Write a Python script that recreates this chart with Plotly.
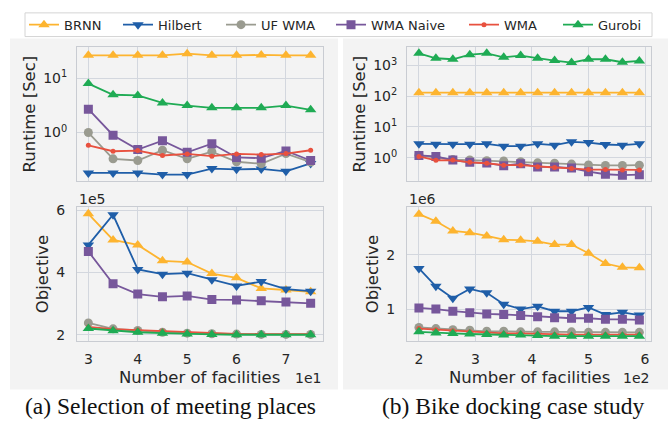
import plotly.graph_objects as go

W, H = 668, 431

# ---------------- data ----------------
series_names = ["BRNN", "Hilbert", "UF WMA", "WMA Naive", "WMA", "Gurobi"]
series_colors = ["#fdb42f", "#1f5ea8", "#9a9b90", "#77579b", "#e8513f", "#1fab54"]
series_symbols = ["triangle-up", "triangle-down", "circle", "square", "circle", "triangle-up"]
series_sizes = [10, 10, 9, 9, 5, 10]

x_meet = [30, 35, 40, 45, 50, 55, 60, 65, 70, 75]
x_bike = [200, 230, 260, 290, 320, 350, 380, 410, 440, 470, 500, 530, 560, 590]

rt_meet_brnn = [26.5, 26.5, 26.5, 26.5, 28.5, 26.5, 26.5, 27.0, 26.5, 26.5]
rt_meet_hilbert = [0.18, 0.18, 0.18, 0.168, 0.168, 0.216, 0.21, 0.213, 0.193, 0.269]
rt_meet_ufwma = [1.0, 0.327, 0.305, 0.471, 0.327, 0.445, 0.289, 0.266, 0.409, 0.285]
rt_meet_naive = [2.69, 0.894, 0.484, 0.705, 0.433, 0.622, 0.347, 0.337, 0.458, 0.305]
rt_meet_wma = [0.58, 0.452, 0.464, 0.377, 0.404, 0.366, 0.404, 0.393, 0.409, 0.471]
rt_meet_gurobi = [8.0, 4.98, 4.84, 3.51, 3.14, 2.85, 2.85, 2.85, 3.14, 2.62]

rt_bike_brnn = [131, 131, 131, 131, 131, 131, 131, 131, 131, 131, 131, 131, 131, 131]
rt_bike_hilbert = [2.83, 2.75, 2.75, 2.75, 2.83, 2.38, 2.38, 2.83, 2.56, 3.28, 3.12, 2.69, 2.56, 2.83]
rt_bike_ufwma = [1.2, 1.05, 0.87, 0.84, 0.80, 0.78, 0.74, 0.68, 0.66, 0.62, 0.58, 0.56, 0.56, 0.57]
rt_bike_naive = [1.19, 1.1, 0.84, 0.71, 0.67, 0.55, 0.64, 0.5, 0.5, 0.46, 0.35, 0.29, 0.27, 0.28]
rt_bike_wma = [1.1, 0.82, 0.84, 0.71, 0.66, 0.57, 0.57, 0.51, 0.48, 0.45, 0.41, 0.41, 0.4, 0.4]
rt_bike_gurobi = [2500, 1725, 1600, 2264, 2500, 1857, 2103, 1725, 1450, 1250, 1600, 1600, 1281, 1413]

obj_meet_brnn = [589000, 505000, 489000, 438000, 434000, 397000, 383000, 349000, 344000, 338000]
obj_meet_hilbert = [489000, 586000, 410000, 395000, 398000, 377000, 357000, 371000, 347000, 340000]
obj_meet_ufwma = [238000, 219000, 214000, 208000, 205000, 203000, 202000, 201000, 201000, 201000]
obj_meet_naive = [468000, 364000, 331000, 322000, 325000, 313000, 312000, 309000, 305000, 301000]
obj_meet_wma = [225000, 218000, 215000, 212000, 207000, 205000, 203000, 202000, 202000, 202000]
obj_meet_gurobi = [220000, 213000, 208000, 205000, 202000, 201000, 200000, 200000, 200000, 200000]

obj_bike_brnn = [2750000, 2620000, 2440000, 2410000, 2350000, 2280000, 2270000, 2250000, 2190000, 2190000, 2030000, 1840000, 1770000, 1760000]
obj_bike_hilbert = [1750000, 1420000, 1200000, 1370000, 1300000, 1090000, 1000000, 1050000, 960000, 960000, 1030000, 900000, 940000, 890000]
obj_bike_naive = [1020000, 1000000, 960000, 930000, 910000, 900000, 880000, 860000, 840000, 830000, 830000, 810000, 810000, 800000]
obj_bike_ufwma = [660000, 640000, 620000, 610000, 590000, 590000, 580000, 580000, 580000, 580000, 570000, 570000, 570000, 570000]
obj_bike_wma = [640000, 620000, 600000, 580000, 560000, 550000, 550000, 540000, 530000, 530000, 530000, 530000, 530000, 530000]
obj_bike_gurobi = [580000, 560000, 550000, 540000, 530000, 520000, 520000, 510000, 500000, 500000, 500000, 500000, 500000, 500000]

meet_x_ticks = [30, 40, 50, 60, 70]
meet_x_labels = ["3", "4", "5", "6", "7"]
bike_x_ticks = [200, 300, 400, 500, 600]
bike_x_labels = ["2", "3", "4", "5", "6"]
rt_meet_ticks = [1, 10]
rt_meet_labels = ["10<sup>0</sup>", "10<sup>1</sup>"]
rt_bike_ticks = [1, 10, 100, 1000]
rt_bike_labels = ["10<sup>0</sup>", "10<sup>1</sup>", "10<sup>2</sup>", "10<sup>3</sup>"]
obj_meet_ticks = [200000, 400000, 600000]
obj_meet_labels = ["2", "4", "6"]
obj_bike_ticks = [1000000, 2000000]
obj_bike_labels = ["1", "2"]

captions = ["(a) Selection of meeting places", "(b) Bike docking case study"]

# ---------------- helpers ----------------
def px(x):
    return x / W

def py(y):
    return 1 - y / H

FONT = "DejaVu Sans"
TXT = "#262626"
GRID = "#d3d7de"
SPINE = "#c9ccd2"

fig = go.Figure()

panels = [
    ("x", "y", x_meet, [rt_meet_brnn, rt_meet_hilbert, rt_meet_ufwma, rt_meet_naive, rt_meet_wma, rt_meet_gurobi]),
    ("x2", "y2", x_bike, [rt_bike_brnn, rt_bike_hilbert, rt_bike_ufwma, rt_bike_naive, rt_bike_wma, rt_bike_gurobi]),
    ("x3", "y3", x_meet, [obj_meet_brnn, obj_meet_hilbert, obj_meet_ufwma, obj_meet_naive, obj_meet_wma, obj_meet_gurobi]),
    ("x4", "y4", x_bike, [obj_bike_brnn, obj_bike_hilbert, obj_bike_ufwma, obj_bike_naive, obj_bike_wma, obj_bike_gurobi]),
]

for pi, (xa, ya, xs, ys_list) in enumerate(panels):
    for si, ys in enumerate(ys_list):
        legname = "legend" if si == 0 else f"legend{si+1}"
        fig.add_trace(go.Scatter(
            x=xs, y=ys, xaxis=xa, yaxis=ya, mode="lines+markers",
            name=series_names[si],
            line=dict(color=series_colors[si], width=1.8),
            marker=dict(symbol=series_symbols[si], size=series_sizes[si],
                        color=series_colors[si], line=dict(width=0)),
            showlegend=(pi == 0), legend=legname,
        ))

# plot geometry (pixels)
LX = (77, 323)
RX = (407, 651)
TY = (43, 178)
BY = (205, 341)

def xdom(r):
    return [px(r[0]), px(r[1])]

def ydom(r):
    return [py(r[1]), py(r[0])]

common_axis = dict(showgrid=True, gridcolor=GRID, gridwidth=1, showline=True,
                   linecolor=SPINE, linewidth=1, mirror=True, zeroline=False,
                   tickfont=dict(family=FONT, size=14, color=TXT),
                   ticks="outside", tickcolor="rgba(0,0,0,0)")

layout = dict(
    width=W, height=H,
    margin=dict(l=0, r=0, t=0, b=0),
    paper_bgcolor="white", plot_bgcolor="#fcfcfc",
    xaxis=dict(domain=xdom(LX), anchor="y", range=[27.7, 77.5], tickvals=meet_x_ticks,
               showticklabels=False, ticklen=4, **common_axis),
    yaxis=dict(domain=ydom(TY), anchor="x", type="log", range=[-0.885, 1.57],
               tickvals=rt_meet_ticks, ticktext=rt_meet_labels, ticklen=6, **common_axis),
    xaxis2=dict(domain=xdom(RX), anchor="y2", range=[178.9, 610.6], tickvals=bike_x_ticks,
                showticklabels=False, ticklen=4, **common_axis),
    yaxis2=dict(domain=ydom(TY), anchor="x2", type="log", range=[-0.742, 3.59],
                tickvals=rt_bike_ticks, ticktext=rt_bike_labels, ticklen=6, **common_axis),
    xaxis3=dict(domain=xdom(LX), anchor="y3", range=[27.7, 77.5], tickvals=meet_x_ticks,
                ticktext=meet_x_labels, ticklen=5, **common_axis),
    yaxis3=dict(domain=ydom(BY), anchor="x3", range=[179000, 610600],
                tickvals=obj_meet_ticks, ticktext=obj_meet_labels, ticklen=8, **common_axis),
    xaxis4=dict(domain=xdom(RX), anchor="y4", range=[178.9, 610.6], tickvals=bike_x_ticks,
                ticktext=bike_x_labels, ticklen=5, **common_axis),
    yaxis4=dict(domain=ydom(BY), anchor="x4", range=[406000, 2880000],
                tickvals=obj_bike_ticks, ticktext=obj_bike_labels, ticklen=8, **common_axis),
)

# one legend per entry so each sits where the reference has it
line_starts = [30, 124, 227, 337, 470, 564]
for i, ls in enumerate(line_starts):
    key = "legend" if i == 0 else f"legend{i+1}"
    layout[key] = dict(x=px(ls - 6), y=py(20), xanchor="left", yanchor="middle",
                       orientation="h", bgcolor="rgba(0,0,0,0)", borderwidth=0,
                       font=dict(family=FONT, size=13, color=TXT))

fig.update_layout(**layout)

shapes = [
    dict(type="rect", xref="paper", yref="paper", x0=px(10), x1=px(338), y0=py(390), y1=py(34),
         fillcolor="#f3f3f3", line=dict(width=0), layer="below"),
    dict(type="rect", xref="paper", yref="paper", x0=px(343), x1=px(668), y0=py(390), y1=py(34),
         fillcolor="#f3f3f3", line=dict(width=0), layer="below"),
    dict(type="rect", xref="paper", yref="paper", x0=px(25), x1=px(652), y0=py(32), y1=py(8),
         fillcolor="white", line=dict(color="#d4d4d4", width=1), layer="below"),
]
fig.update_layout(shapes=shapes)

ann = []
def text(x, y, s, size=16.5, xanchor="center", yanchor="middle", angle=0, family=FONT, color=TXT):
    ann.append(dict(x=px(x), y=py(y), xref="paper", yref="paper", text=s, showarrow=False,
                    xanchor=xanchor, yanchor=yanchor, textangle=angle,
                    font=dict(family=family, size=size, color=color)))

text(29, 111, "Runtime [Sec]", angle=-90)
text(359, 111, "Runtime [Sec]", angle=-90)
text(42, 273, "Objective", angle=-90)
text(372, 273, "Objective", angle=-90)
text(200, 378, "Number of facilities")
text(529, 378, "Number of facilities")
text(77, 197, "1e5", size=14, xanchor="left")
text(407, 197, "1e6", size=14, xanchor="left")
text(323, 378, "1e1", size=14, xanchor="right")
text(651, 378, "1e2", size=14, xanchor="right")
text(170, 407, captions[0], size=23.5, family="Liberation Serif", color="#111111")
text(513, 407, captions[1], size=23.5, family="Liberation Serif", color="#111111")

fig.update_layout(annotations=ann)

fig.write_html("out.html", config={"displayModeBar": False},
               post_script="document.body.style.margin='0';document.body.style.overflow='hidden';")
